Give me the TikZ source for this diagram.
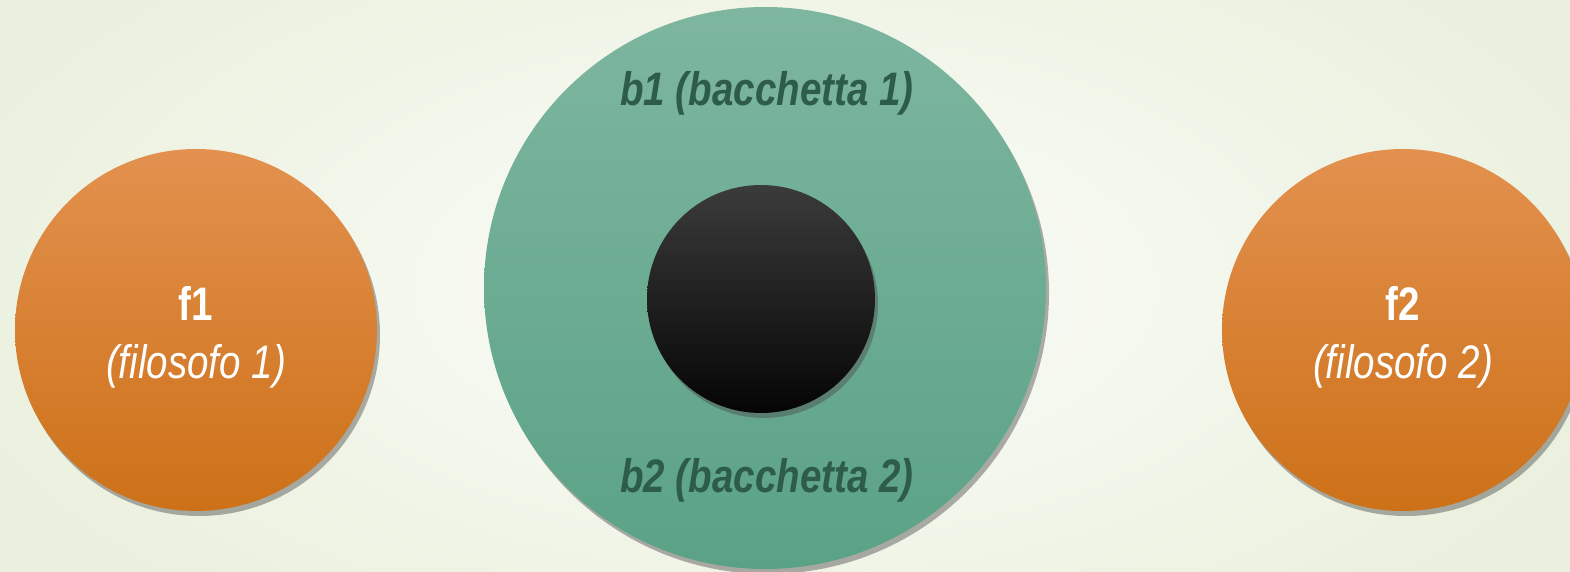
\documentclass[tikz,border=0pt]{standalone}
\usepackage{fontspec}
\setmainfont{Liberation Sans}
\newfontfamily\stretta[FakeStretch=0.82]{Liberation Sans}
\usetikzlibrary{shadows}

\definecolor{sfondo}{HTML}{FCFDFA}
\definecolor{sfondobordo}{HTML}{EAF0DD}
\definecolor{aranciosu}{HTML}{E3914F}
\definecolor{aranciogiu}{HTML}{CD7118}
\definecolor{verdesu}{HTML}{7EB6A0}
\definecolor{verdegiu}{HTML}{5AA286}
\definecolor{nerosu}{HTML}{3B3B3B}
\definecolor{nerogiu}{HTML}{050505}
\definecolor{scritta}{HTML}{2E5C4B}

\tikzset{
  ombra/.style={drop shadow={shadow xshift=3pt,shadow yshift=-5pt,opacity=.45,fill=black!70}},
  filosofo/.style={circle,minimum size=362pt,inner sep=0pt,ombra,
    top color=aranciosu,bottom color=aranciogiu},
  tavolo/.style={circle,minimum size=562pt,inner sep=0pt,ombra,
    top color=verdesu,bottom color=verdegiu},
  piatto/.style={circle,minimum size=228pt,inner sep=0pt,ombra,
    top color=nerosu,bottom color=nerogiu},
  nome/.style={anchor=base,text=white,font=\stretta\fontsize{47}{56}\selectfont\bfseries},
  sottonome/.style={anchor=base,text=white,font=\stretta\fontsize{47}{56}\selectfont\itshape},
  bacchetta/.style={anchor=base,text=scritta,font=\stretta\fontsize{47}{56}\selectfont\bfseries\itshape}
}

\begin{document}
\begin{tikzpicture}[x=1pt,y=-1pt]
\useasboundingbox (0,0) rectangle (1570,572);
\clip (0,0) rectangle (1570,572);
\fill[inner color=sfondo,outer color=sfondobordo] (-100,-150) rectangle (1670,722);

\node[filosofo] (f1) at (196,330) {};
\node[nome] (f1 nome) at (196,320) {f1};
\node[sottonome] (f1 sotto) at (196,378) {(filosofo 1)};

\node[tavolo] (tavolo) at (765,288) {};
\node[piatto] (piatto) at (761,299) {};
\node[bacchetta] (b1) at (767,106) {b1 (bacchetta 1)};
\node[bacchetta] (b2) at (767,492) {b2 (bacchetta 2)};

\node[filosofo] (f2) at (1403,330) {};
\node[nome] (f2 nome) at (1403,320) {f2};
\node[sottonome] (f2 sotto) at (1403,378) {(filosofo 2)};
\end{tikzpicture}
\end{document}
